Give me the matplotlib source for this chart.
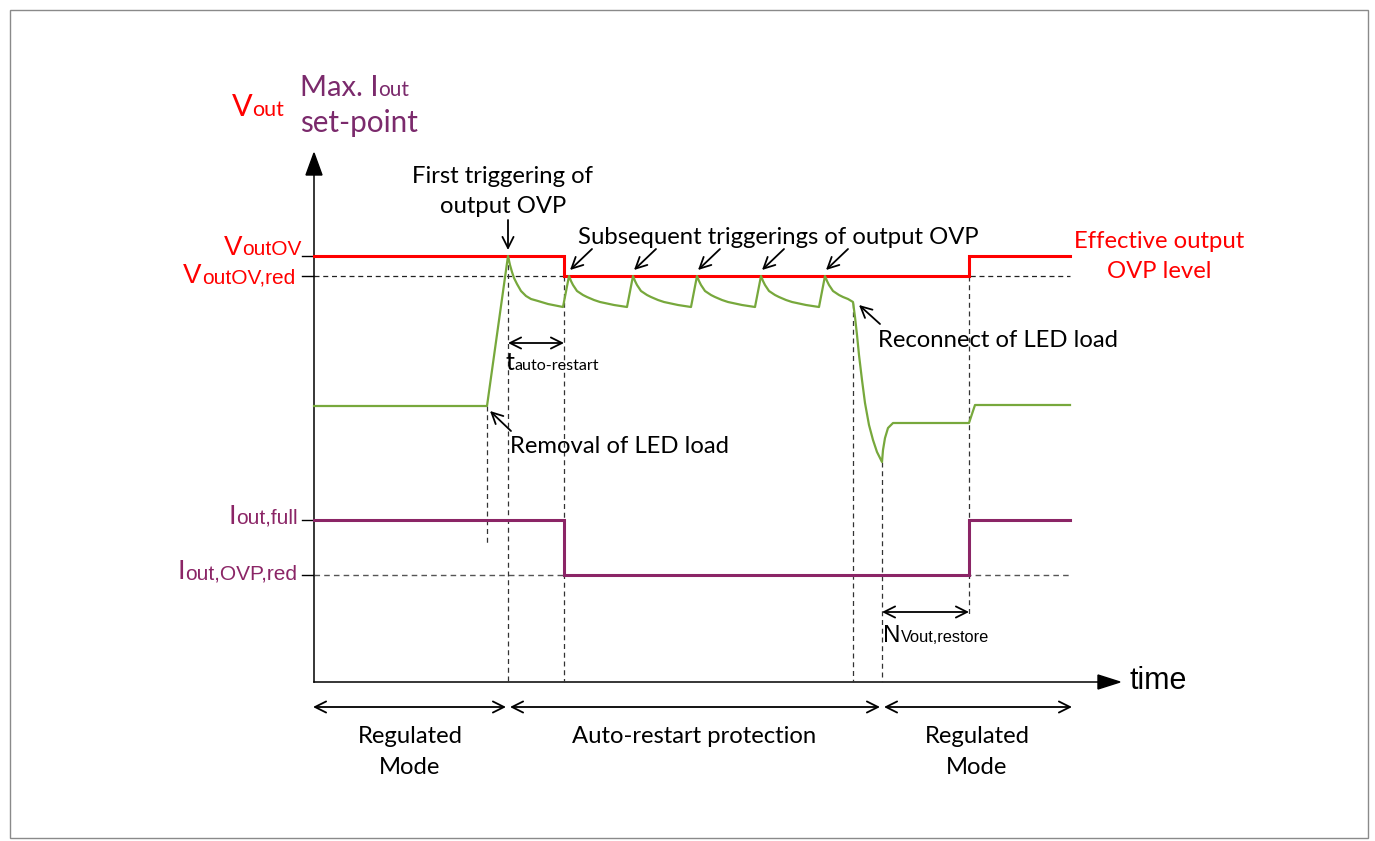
import matplotlib
matplotlib.use("Agg")
import matplotlib.pyplot as plt
from matplotlib.patches import Rectangle, Polygon

W, H = 1375, 841
RED = "#ff0000"
GREEN = "#77a83c"
PURPLE = "#8b2566"
PURPLE_TXT = "#7b2a6c"
BODY = ["Lato", "DejaVu Sans"]
SANS = ["Liberation Sans", "DejaVu Sans"]
FS = 17.2  # body text size

# diagram frame (drawing units = pixels of the original)
X0, Y0 = 314, 682
X_END, Y_TOP = 1120, 153

# time markers
t_removal = 487
t_trig1 = 508
t_ar = 564
t_reconnect = 853
t_low = 882
t_restore = 969
t_end = 1070

# levels
v_ov = 256
v_ov_red = 276
i_full = 520
i_red = 575

# effective OVP level and max Iout set-point traces
step_t = [X0, t_ar, t_ar, t_restore, t_restore, t_end]
ovp_v = [v_ov, v_ov, v_ov_red, v_ov_red, v_ov, v_ov]
iset_v = [i_full, i_full, i_red, i_red, i_full, i_full]

# Vout trace
pre_t = [X0, t_removal, t_trig1]
pre_v = [406, 406, v_ov]
first_decay = [(0, 0), (2, 9), (4, 16), (6, 22), (9, 28), (13, 35), (18, 40),
               (23, 43), (30, 45), (40, 48), (55, 51)]
restart_peaks = [569, 633, 697, 761, 825]
decay = [(0, 0), (2, 5), (4, 9), (6, 12), (8, 15), (11, 17), (14, 19), (18, 21),
         (25, 24), (31, 26), (45, 29), (58, 31)]
last_decay = [(0, 0), (2, 5), (4, 9), (6, 12), (8, 15), (11, 17), (14, 19),
              (18, 21), (23, 23), (28, 26)]
tail_t = [855, 857, 859, 862, 865, 869, 873, 877, 882, 883, 885, 888, 893, t_restore, 975, t_end]
tail_v = [317, 335, 355, 380, 403, 425, 440, 452, 462, 450, 438, 428, 423, 423, 405, 405]

# dashed guides
vguides = [(t_removal, 406, 543), (t_trig1, v_ov, Y0), (t_ar, v_ov_red, Y0),
           (t_reconnect, 303, Y0), (t_low, 462, Y0), (t_restore, v_ov_red, 615)]

fig = plt.figure(figsize=(W / 100, H / 100), dpi=100)
ax = fig.add_axes([0, 0, 1, 1])
ax.set_xlim(0, W)
ax.set_ylim(H, 0)
ax.axis("off")
R = fig.canvas.get_renderer()

ax.add_patch(Rectangle((10, 10), 1358, 828, fill=False, ec="#8a8a8a", lw=1))

# axes with arrow heads
ax.plot([X0, X0], [Y0, Y_TOP + 20], color="black", lw=1.1)
ax.plot([X0, X_END - 20], [Y0, Y0], color="black", lw=1.1)
ax.add_patch(Polygon([(X0 - 8, Y_TOP + 22), (X0 + 8, Y_TOP + 22), (X0, Y_TOP)], color="black"))
ax.add_patch(Polygon([(X_END - 22, Y0 - 7), (X_END - 22, Y0 + 7), (X_END, Y0)], color="black"))

# level ticks
for lv in [v_ov, v_ov_red, i_full, i_red]:
    ax.plot([X0 - 12, X0], [lv, lv], color="black", lw=1)

# dashed guides
ax.plot([X0, t_end], [v_ov_red, v_ov_red], color="#222222", lw=0.9, dashes=(4, 3))
ax.plot([X0, t_end], [i_red, i_red], color="#555555", lw=1.0, dashes=(4, 3))
for x, ya, yb in vguides:
    ax.plot([x, x], [ya, yb], color="#333333", lw=0.9, dashes=(4, 3))

# traces
ax.plot(step_t, iset_v, color=PURPLE, lw=2.2, solid_joinstyle="miter")
ax.plot(step_t, ovp_v, color=RED, lw=2.2, solid_joinstyle="miter")

gt = list(pre_t)
gv = list(pre_v)
gt += [t_trig1 + d for d, _ in first_decay[1:]]
gv += [v_ov + dv for _, dv in first_decay[1:]]
for k, p in enumerate(restart_peaks):
    prof = last_decay if k == len(restart_peaks) - 1 else decay
    gt += [p + d for d, _ in prof]
    gv += [v_ov_red + dv for _, dv in prof]
gt += tail_t
gv += tail_v
ax.plot(gt, gv, color=GREEN, lw=1.6, solid_joinstyle="round")


def arrow(tail, tip, style="->"):
    ax.annotate("", xy=tip, xytext=tail,
                arrowprops=dict(arrowstyle=style, color="black", lw=1.3,
                                mutation_scale=20, shrinkA=0, shrinkB=0))


def rich(x, y, parts, color, family, ha="left"):
    texts = [ax.text(0, y, s, fontsize=sz, color=color, family=family,
                     va="baseline", ha="left") for s, sz in parts]
    widths = [t.get_window_extent(R).width for t in texts]
    total = sum(widths)
    start = {"left": x, "right": x - total, "center": x - total / 2}[ha]
    for t, w in zip(texts, widths):
        t.set_x(start)
        start += w


# annotation arrows
arrow((t_trig1, 220), (t_trig1, 250))
for p in restart_peaks:
    arrow((p + 23, 249), (p + 1, 270))
arrow((880, 324), (859, 305))
arrow((511, 431), (490, 411))
arrow((t_trig1, 343), (t_ar, 343), "<->")
arrow((t_low, 612), (t_restore, 612), "<->")
arrow((X0 - 1, 707), (t_trig1 - 2, 707), "<->")
arrow((t_trig1 + 2, 707), (t_low - 2, 707), "<->")
arrow((t_low + 2, 707), (t_end + 2, 707), "<->")

# axis titles
rich(232, 116, [("V", 22), ("out", 15.5)], RED, BODY)
rich(300, 96, [("Max. I", 21), ("out", 15)], PURPLE_TXT, BODY)
ax.text(300, 132, "set-point", fontsize=21.3, color=PURPLE_TXT, family=BODY, va="baseline")
ax.text(1130, 689, "time", fontsize=22, color="black", family=SANS, va="baseline")

# level labels
rich(302, 255, [("V", 20), ("outOV", 15)], RED, SANS, ha="right")
rich(295, 283, [("V", 20), ("outOV,red", 15)], RED, SANS, ha="right")
rich(298, 524, [("I", 20), ("out,full", 15)], PURPLE, SANS, ha="right")
rich(297, 579, [("I", 20), ("out,OVP,red", 15)], PURPLE, SANS, ha="right")

# event annotations
ax.text(503, 183, "First triggering of", fontsize=FS, family=BODY, ha="center", va="baseline")
ax.text(503, 213, "output OVP", fontsize=FS, family=BODY, ha="center", va="baseline")
ax.text(578, 244, "Subsequent triggerings of output OVP", fontsize=FS, family=BODY, va="baseline")
ax.text(878, 347, "Reconnect of LED load", fontsize=FS, family=BODY, va="baseline")
ax.text(510, 453, "Removal of LED load", fontsize=FS, family=BODY, va="baseline")
ax.text(1159, 248, "Effective output", fontsize=FS, color=RED, family=BODY, ha="center", va="baseline")
ax.text(1159, 278, "OVP level", fontsize=FS, color=RED, family=BODY, ha="center", va="baseline")
rich(506, 370, [("t", 18), ("auto-restart", 11.6)], "black", BODY)
rich(883, 642, [("N", 17.5), ("Vout,restore", 11.8)], "black", SANS)

# mode labels
for cx, lines in [(410, ["Regulated", "Mode"]), (694, ["Auto-restart protection"]),
                  (977, ["Regulated", "Mode"])]:
    for j, s in enumerate(lines):
        ax.text(cx, 743 + 31 * j, s, fontsize=FS, family=BODY, ha="center", va="baseline")

fig.savefig("out.png", dpi=100)
